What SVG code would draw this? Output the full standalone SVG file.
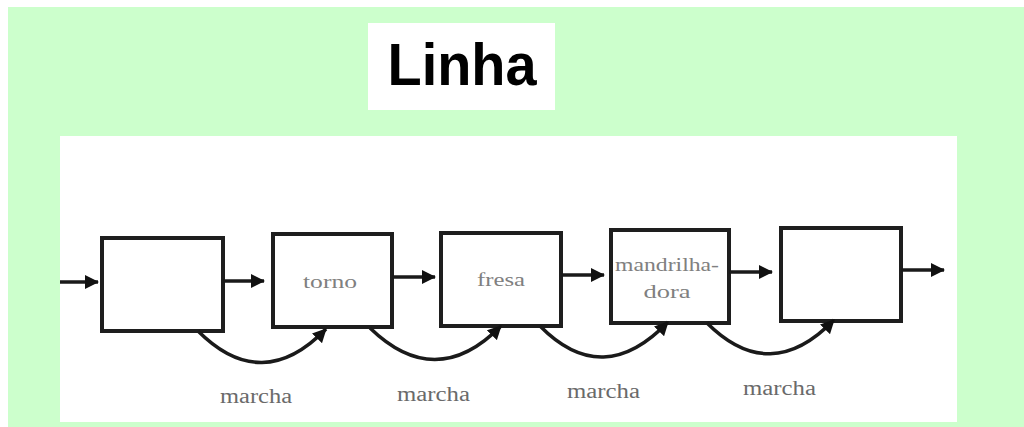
<svg xmlns="http://www.w3.org/2000/svg" width="1024" height="427" viewBox="0 0 1024 427">
  <style>
    .box { fill: #ffffff; stroke: #1e1e1e; stroke-width: 4; }
    .flow { fill: none; stroke: #1a1a1a; stroke-width: 3.5; }
    .curve { fill: none; stroke: #1a1a1a; stroke-width: 3.5; }
    .lbl { font-family: "Liberation Serif", "Times New Roman", serif; fill: #808080; font-size: 18px; text-anchor: middle; }
    .march { font-family: "Liberation Serif", "Times New Roman", serif; fill: #6a6a6a; font-size: 20px; }
  </style>
  <defs>
    <marker id="head" viewBox="0 0 14 14" refX="13" refY="7" markerWidth="14" markerHeight="14" markerUnits="userSpaceOnUse" orient="auto">
      <path d="M0,0 L14,7 L0,14 Z" fill="#111111"/>
    </marker>
  </defs>

  <!-- background -->
  <rect x="0" y="0" width="1024" height="427" fill="#ffffff"/>
  <rect x="8" y="7" width="1016" height="420" fill="#ccffcc"/>

  <!-- title -->
  <g id="title">
    <rect x="368" y="23" width="187" height="87" fill="#ffffff"/>
    <text x="462" y="85" font-family="Liberation Sans, Arial, sans-serif" font-weight="bold" font-size="60" text-anchor="middle" textLength="149" lengthAdjust="spacingAndGlyphs" fill="#000000">Linha</text>
  </g>

  <!-- diagram panel -->
  <rect x="60" y="136" width="897" height="286" fill="#ffffff"/>

  <g id="node-1">
    <rect class="box" x="102" y="238" width="121" height="93"/>
  </g>
  <g id="node-torno">
    <rect class="box" x="273" y="234" width="119" height="93"/>
    <text class="lbl" x="330" y="288" textLength="54" lengthAdjust="spacingAndGlyphs">torno</text>
  </g>
  <g id="node-fresa">
    <rect class="box" x="441" y="233" width="120" height="93"/>
    <text class="lbl" x="501" y="286" textLength="48" lengthAdjust="spacingAndGlyphs">fresa</text>
  </g>
  <g id="node-mandrilhadora">
    <rect class="box" x="611" y="230" width="118" height="93"/>
    <text class="lbl" x="667" y="271" textLength="104" lengthAdjust="spacingAndGlyphs">mandrilha-</text>
    <text class="lbl" x="667" y="298" textLength="47" lengthAdjust="spacingAndGlyphs">dora</text>
  </g>
  <g id="node-5">
    <rect class="box" x="781" y="228" width="120" height="93"/>
  </g>

  <g id="connectors">
    <line class="flow" x1="60" y1="282" x2="98" y2="282" marker-end="url(#head)"/>
    <line class="flow" x1="223" y1="281" x2="264" y2="281" marker-end="url(#head)"/>
    <line class="flow" x1="392" y1="277" x2="435" y2="277" marker-end="url(#head)"/>
    <line class="flow" x1="561" y1="275" x2="604" y2="275" marker-end="url(#head)"/>
    <line class="flow" x1="729" y1="272" x2="772" y2="272" marker-end="url(#head)"/>
    <line class="flow" x1="901" y1="270" x2="944" y2="270" marker-end="url(#head)"/>

    <path class="curve" d="M198,331 Q262,395 326,329" marker-end="url(#head)"/>
    <path class="curve" d="M370,328 Q436,392 501,326" marker-end="url(#head)"/>
    <path class="curve" d="M540,326 Q603,390 668,322" marker-end="url(#head)"/>
    <path class="curve" d="M707,323 Q770,386 834,320" marker-end="url(#head)"/>
  </g>

  <g id="labels">
    <text class="march" x="220" y="403" textLength="72" lengthAdjust="spacingAndGlyphs">marcha</text>
    <text class="march" x="397" y="401" textLength="73" lengthAdjust="spacingAndGlyphs">marcha</text>
    <text class="march" x="567" y="398" textLength="73" lengthAdjust="spacingAndGlyphs">marcha</text>
    <text class="march" x="743" y="395" textLength="73" lengthAdjust="spacingAndGlyphs">marcha</text>
  </g>
</svg>
